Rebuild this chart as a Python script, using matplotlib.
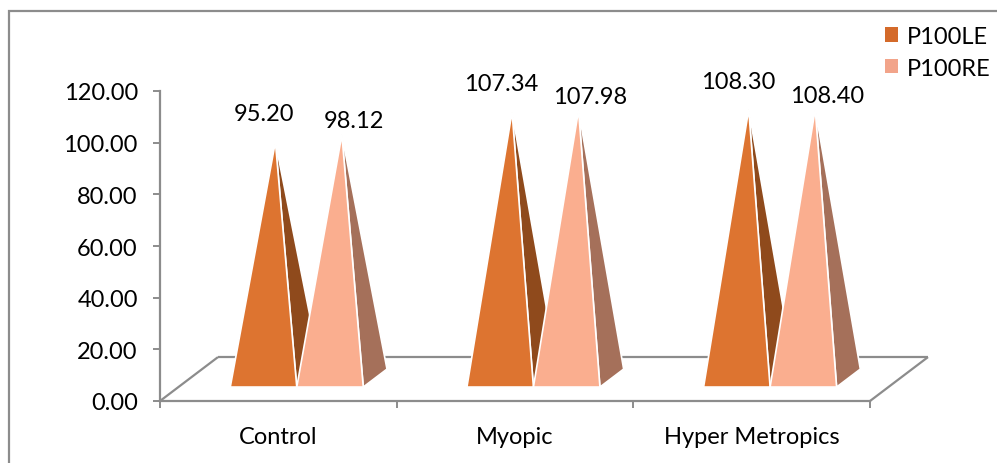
import matplotlib
matplotlib.use("Agg")
import matplotlib.pyplot as plt
from matplotlib.patches import Polygon, Patch, Rectangle
from matplotlib.ticker import FormatStrFormatter
import numpy as np

plt.rcParams['font.family'] = ['Lato', 'DejaVu Sans']

# ---- data ----
categories = ["Control", "Myopic", "Hyper Metropics"]
series_names = ["P100LE", "P100RE"]
p100le = [95.20, 107.34, 108.30]
p100re = [98.12, 107.98, 108.40]
y_ticks = [0, 20, 40, 60, 80, 100, 120]

# ---- style ----
front_cols = ["#DD7430", "#FAAE8F"]
side_cols = ["#8F4A1C", "#A5705A"]
legend_cols = ["#D46A2A", "#F2A48A"]
axis_gray = "#8C8C8C"
FS = 17

W, H = 997, 464
fig = plt.figure(figsize=(W / 100, H / 100), dpi=100)
ax = fig.add_axes([160 / W, (H - 402) / H, 710 / W, 310 / H])
n = len(categories)
ax.set_xlim(0, n)
ax.set_ylim(0, 120)

# 3D projection parameters (data units)
DX, DY = 0.245, 17.0          # full floor depth offset
f0, f1 = 0.318, 0.727         # pyramid front / back depth fractions
fm = (f0 + f1) / 2
hscale = 0.96                 # perspective shrink of heights
pw = 0.281                    # pyramid width

# floor
floor_kw = dict(color=axis_gray, lw=1.6, clip_on=False, zorder=1,
                solid_capstyle='butt')
ax.plot([0, DX], [0, DY], **floor_kw)
ax.plot([n, n + DX], [0, DY], **floor_kw)
ax.plot([DX, n + DX], [DY, DY], **floor_kw)

for s, vals in enumerate([p100le, p100re]):
    for i, v in enumerate(vals):
        c = i + 0.5
        xl = c - pw if s == 0 else c
        xr = xl + pw
        xc = (xl + xr) / 2
        apex = (xc + fm * DX, fm * DY + v * hscale)
        fl = (xl + f0 * DX, f0 * DY)
        fr = (xr + f0 * DX, f0 * DY)
        br = (xr + f1 * DX, f1 * DY)
        side = Polygon([fr, br, apex], closed=True, facecolor=side_cols[s],
                       edgecolor='white', lw=1.2, zorder=3 + s * 2, clip_on=False)
        front = Polygon([fl, fr, apex], closed=True, facecolor=front_cols[s],
                        edgecolor='white', lw=1.2, zorder=4 + s * 2, clip_on=False)
        ax.add_patch(side)
        ax.add_patch(front)
        off = (-11, 28) if s == 0 else (12, 14)
        ax.annotate(f"{v:.2f}", xy=apex, xytext=off, textcoords='offset pixels',
                    ha='center', va='center', fontsize=FS, color='black',
                    zorder=10, annotation_clip=False)

# axes styling
for sp in ['top', 'right']:
    ax.spines[sp].set_visible(False)
for sp in ['left', 'bottom']:
    ax.spines[sp].set_color(axis_gray)
    ax.spines[sp].set_linewidth(1.6)
ax.set_yticks(y_ticks)
ax.yaxis.set_major_formatter(FormatStrFormatter('%.2f'))
ax.tick_params(axis='y', direction='out', length=5, width=1.4, color=axis_gray,
               labelsize=FS, pad=11)
ax.set_xticks([i + 0.5 for i in range(n)])
ax.set_xticklabels(categories)
ax.set_xticks(list(range(n + 1)), minor=True)
ax.tick_params(axis='x', which='major', length=0, labelsize=FS, pad=18)
ax.tick_params(axis='x', which='minor', direction='out', length=5, width=1.4,
               color=axis_gray)
ax.set_facecolor('none')

# legend
handles = [Patch(facecolor=legend_cols[k], edgecolor='none', label=series_names[k])
           for k in range(2)]
fig.legend(handles=handles, loc='upper left', bbox_to_anchor=(885 / W, 1 - 27 / H),
           frameon=False, fontsize=FS, handlelength=0.56, handleheight=0.56,
           handletextpad=0.35, labelspacing=0.45, borderpad=0, borderaxespad=0)

# chart border
fig.patches.append(Rectangle((9 / W, -0.2), 1.2, 1.2 - 12 / H,
                             transform=fig.transFigure, fill=False,
                             edgecolor=axis_gray, lw=1.6, zorder=0))

fig.savefig("out.png", dpi=100)
